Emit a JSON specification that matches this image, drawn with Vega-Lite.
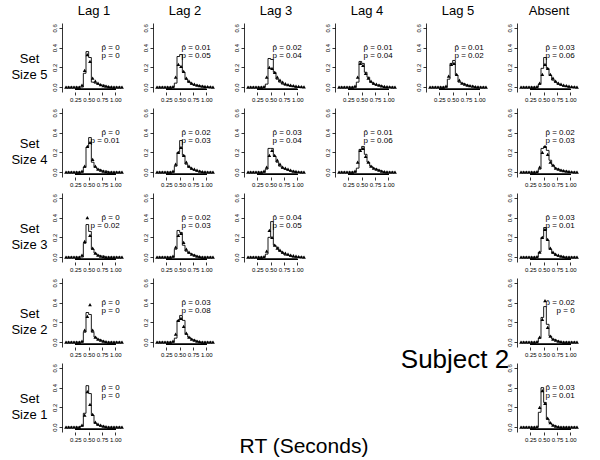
{
"$schema":"https://vega.github.io/schema/vega-lite/v6.json",
"padding":{"left":10,"top":5,"right":5,"bottom":0},
"datasets":{
"a":[
{"k":"L1-5","t":["p\u0302 = 0","p = 0"]},
{"k":"L2-5","t":["p\u0302 = 0.01","p = 0.05"]},
{"k":"L3-5","t":["p\u0302 = 0.02","p = 0.04"]},
{"k":"L4-5","t":["p\u0302 = 0.01","p = 0.04"]},
{"k":"L5-5","t":["p\u0302 = 0.01","p = 0.02"]},
{"k":"A-5","t":["p\u0302 = 0.03","p = 0.06"]},
{"k":"L1-4","t":["p\u0302 = 0","p = 0.01"]},
{"k":"L2-4","t":["p\u0302 = 0.02","p = 0.03"]},
{"k":"L3-4","t":["p\u0302 = 0.03","p = 0.04"]},
{"k":"L4-4","t":["p\u0302 = 0.01","p = 0.06"]},
{"k":"A-4","t":["p\u0302 = 0.02","p = 0.03"]},
{"k":"L1-3","t":["p\u0302 = 0","p = 0.02"]},
{"k":"L2-3","t":["p\u0302 = 0.02","p = 0.03"]},
{"k":"L3-3","t":["p\u0302 = 0.04","p = 0.05"]},
{"k":"A-3","t":["p\u0302 = 0.03","p = 0.01"]},
{"k":"L1-2","t":["p\u0302 = 0","p = 0"]},
{"k":"L2-2","t":["p\u0302 = 0.03","p = 0.08"]},
{"k":"A-2","t":["p\u0302 = 0.02","p = 0"]},
{"k":"L1-1","t":["p\u0302 = 0","p = 0"]},
{"k":"A-1","t":["p\u0302 = 0.03","p = 0.01"]}
],
"h":[
{"k":"L1-5","x":0.075,"o":0,"p":0},{"k":"L1-5","x":0.125,"o":0,"p":0},{"k":"L1-5","x":0.175,"o":0,"p":0},{"k":"L1-5","x":0.225,"o":0,"p":0},{"k":"L1-5","x":0.275,"o":0,"p":0},{"k":"L1-5","x":0.325,"o":0,"p":0},{"k":"L1-5","x":0.375,"o":0,"p":0.02},{"k":"L1-5","x":0.425,"o":0.14,"p":0.17},{"k":"L1-5","x":0.475,"o":0.36,"p":0.33},{"k":"L1-5","x":0.525,"o":0.30,"p":0.26},{"k":"L1-5","x":0.575,"o":0.05,"p":0.09},{"k":"L1-5","x":0.625,"o":0.04,"p":0.06},{"k":"L1-5","x":0.675,"o":0.03,"p":0.04},{"k":"L1-5","x":0.725,"o":0.02,"p":0.025},{"k":"L1-5","x":0.775,"o":0.02,"p":0.015},{"k":"L1-5","x":0.825,"o":0.01,"p":0.01},{"k":"L1-5","x":0.875,"o":0,"p":0.005},{"k":"L1-5","x":0.925,"o":0,"p":0.003},{"k":"L1-5","x":0.975,"o":0,"p":0},{"k":"L1-5","x":1.025,"o":0,"p":0},{"k":"L1-5","x":1.075,"o":0,"p":0},{"k":"L1-5","x":1.125,"o":0,"p":0},
{"k":"L2-5","x":0.075,"o":0,"p":0},{"k":"L2-5","x":0.125,"o":0,"p":0},{"k":"L2-5","x":0.175,"o":0,"p":0},{"k":"L2-5","x":0.225,"o":0,"p":0},{"k":"L2-5","x":0.275,"o":0,"p":0},{"k":"L2-5","x":0.325,"o":0,"p":0},{"k":"L2-5","x":0.375,"o":0,"p":0.005},{"k":"L2-5","x":0.425,"o":0.04,"p":0.10},{"k":"L2-5","x":0.475,"o":0.31,"p":0.23},{"k":"L2-5","x":0.525,"o":0.33,"p":0.21},{"k":"L2-5","x":0.575,"o":0.15,"p":0.16},{"k":"L2-5","x":0.625,"o":0.08,"p":0.09},{"k":"L2-5","x":0.675,"o":0.05,"p":0.06},{"k":"L2-5","x":0.725,"o":0.03,"p":0.04},{"k":"L2-5","x":0.775,"o":0.02,"p":0.03},{"k":"L2-5","x":0.825,"o":0.02,"p":0.02},{"k":"L2-5","x":0.875,"o":0.01,"p":0.015},{"k":"L2-5","x":0.925,"o":0.01,"p":0.01},{"k":"L2-5","x":0.975,"o":0,"p":0.008},{"k":"L2-5","x":1.025,"o":0,"p":0.005},{"k":"L2-5","x":1.075,"o":0,"p":0.003},{"k":"L2-5","x":1.125,"o":0,"p":0},
{"k":"L3-5","x":0.075,"o":0,"p":0},{"k":"L3-5","x":0.125,"o":0,"p":0},{"k":"L3-5","x":0.175,"o":0,"p":0},{"k":"L3-5","x":0.225,"o":0,"p":0},{"k":"L3-5","x":0.275,"o":0,"p":0},{"k":"L3-5","x":0.325,"o":0,"p":0},{"k":"L3-5","x":0.375,"o":0,"p":0.005},{"k":"L3-5","x":0.425,"o":0.03,"p":0.10},{"k":"L3-5","x":0.475,"o":0.29,"p":0.20},{"k":"L3-5","x":0.525,"o":0.28,"p":0.19},{"k":"L3-5","x":0.575,"o":0.15,"p":0.15},{"k":"L3-5","x":0.625,"o":0.08,"p":0.10},{"k":"L3-5","x":0.675,"o":0.05,"p":0.07},{"k":"L3-5","x":0.725,"o":0.03,"p":0.05},{"k":"L3-5","x":0.775,"o":0.02,"p":0.035},{"k":"L3-5","x":0.825,"o":0.02,"p":0.025},{"k":"L3-5","x":0.875,"o":0.01,"p":0.02},{"k":"L3-5","x":0.925,"o":0.01,"p":0.015},{"k":"L3-5","x":0.975,"o":0,"p":0.01},{"k":"L3-5","x":1.025,"o":0,"p":0.006},{"k":"L3-5","x":1.075,"o":0,"p":0.004},{"k":"L3-5","x":1.125,"o":0,"p":0.002},
{"k":"L4-5","x":0.075,"o":0,"p":0},{"k":"L4-5","x":0.125,"o":0,"p":0},{"k":"L4-5","x":0.175,"o":0,"p":0},{"k":"L4-5","x":0.225,"o":0,"p":0},{"k":"L4-5","x":0.275,"o":0,"p":0},{"k":"L4-5","x":0.325,"o":0,"p":0},{"k":"L4-5","x":0.375,"o":0,"p":0.01},{"k":"L4-5","x":0.425,"o":0.05,"p":0.10},{"k":"L4-5","x":0.475,"o":0.26,"p":0.24},{"k":"L4-5","x":0.525,"o":0.24,"p":0.22},{"k":"L4-5","x":0.575,"o":0.15,"p":0.14},{"k":"L4-5","x":0.625,"o":0.10,"p":0.09},{"k":"L4-5","x":0.675,"o":0.05,"p":0.06},{"k":"L4-5","x":0.725,"o":0.03,"p":0.04},{"k":"L4-5","x":0.775,"o":0.02,"p":0.03},{"k":"L4-5","x":0.825,"o":0.02,"p":0.02},{"k":"L4-5","x":0.875,"o":0.01,"p":0.012},{"k":"L4-5","x":0.925,"o":0,"p":0.008},{"k":"L4-5","x":0.975,"o":0,"p":0.005},{"k":"L4-5","x":1.025,"o":0,"p":0.003},{"k":"L4-5","x":1.075,"o":0,"p":0},{"k":"L4-5","x":1.125,"o":0,"p":0},
{"k":"L5-5","x":0.075,"o":0,"p":0},{"k":"L5-5","x":0.125,"o":0,"p":0},{"k":"L5-5","x":0.175,"o":0,"p":0},{"k":"L5-5","x":0.225,"o":0,"p":0},{"k":"L5-5","x":0.275,"o":0,"p":0},{"k":"L5-5","x":0.325,"o":0,"p":0},{"k":"L5-5","x":0.375,"o":0,"p":0.01},{"k":"L5-5","x":0.425,"o":0.08,"p":0.11},{"k":"L5-5","x":0.475,"o":0.24,"p":0.23},{"k":"L5-5","x":0.525,"o":0.27,"p":0.24},{"k":"L5-5","x":0.575,"o":0.12,"p":0.13},{"k":"L5-5","x":0.625,"o":0.05,"p":0.07},{"k":"L5-5","x":0.675,"o":0.04,"p":0.04},{"k":"L5-5","x":0.725,"o":0.03,"p":0.03},{"k":"L5-5","x":0.775,"o":0.02,"p":0.02},{"k":"L5-5","x":0.825,"o":0.01,"p":0.015},{"k":"L5-5","x":0.875,"o":0.01,"p":0.01},{"k":"L5-5","x":0.925,"o":0,"p":0.005},{"k":"L5-5","x":0.975,"o":0,"p":0.003},{"k":"L5-5","x":1.025,"o":0,"p":0},{"k":"L5-5","x":1.075,"o":0,"p":0},{"k":"L5-5","x":1.125,"o":0,"p":0},
{"k":"A-5","x":0.075,"o":0,"p":0},{"k":"A-5","x":0.125,"o":0,"p":0},{"k":"A-5","x":0.175,"o":0,"p":0},{"k":"A-5","x":0.225,"o":0,"p":0},{"k":"A-5","x":0.275,"o":0,"p":0},{"k":"A-5","x":0.325,"o":0,"p":0},{"k":"A-5","x":0.375,"o":0,"p":0.005},{"k":"A-5","x":0.425,"o":0.03,"p":0.04},{"k":"A-5","x":0.475,"o":0.19,"p":0.13},{"k":"A-5","x":0.525,"o":0.30,"p":0.23},{"k":"A-5","x":0.575,"o":0.19,"p":0.19},{"k":"A-5","x":0.625,"o":0.12,"p":0.13},{"k":"A-5","x":0.675,"o":0.07,"p":0.09},{"k":"A-5","x":0.725,"o":0.05,"p":0.06},{"k":"A-5","x":0.775,"o":0.03,"p":0.04},{"k":"A-5","x":0.825,"o":0.02,"p":0.03},{"k":"A-5","x":0.875,"o":0.01,"p":0.02},{"k":"A-5","x":0.925,"o":0.01,"p":0.015},{"k":"A-5","x":0.975,"o":0,"p":0.01},{"k":"A-5","x":1.025,"o":0,"p":0.005},{"k":"A-5","x":1.075,"o":0,"p":0.003},{"k":"A-5","x":1.125,"o":0,"p":0},
{"k":"L1-4","x":0.075,"o":0,"p":0},{"k":"L1-4","x":0.125,"o":0,"p":0},{"k":"L1-4","x":0.175,"o":0,"p":0},{"k":"L1-4","x":0.225,"o":0,"p":0},{"k":"L1-4","x":0.275,"o":0,"p":0},{"k":"L1-4","x":0.325,"o":0,"p":0},{"k":"L1-4","x":0.375,"o":0,"p":0.01},{"k":"L1-4","x":0.425,"o":0.05,"p":0.06},{"k":"L1-4","x":0.475,"o":0.25,"p":0.26},{"k":"L1-4","x":0.525,"o":0.35,"p":0.30},{"k":"L1-4","x":0.575,"o":0.10,"p":0.13},{"k":"L1-4","x":0.625,"o":0.05,"p":0.06},{"k":"L1-4","x":0.675,"o":0.03,"p":0.03},{"k":"L1-4","x":0.725,"o":0.02,"p":0.02},{"k":"L1-4","x":0.775,"o":0.01,"p":0.01},{"k":"L1-4","x":0.825,"o":0.01,"p":0.005},{"k":"L1-4","x":0.875,"o":0,"p":0},{"k":"L1-4","x":0.925,"o":0,"p":0},{"k":"L1-4","x":0.975,"o":0,"p":0},{"k":"L1-4","x":1.025,"o":0,"p":0},{"k":"L1-4","x":1.075,"o":0,"p":0},{"k":"L1-4","x":1.125,"o":0,"p":0},
{"k":"L2-4","x":0.075,"o":0,"p":0},{"k":"L2-4","x":0.125,"o":0,"p":0},{"k":"L2-4","x":0.175,"o":0,"p":0},{"k":"L2-4","x":0.225,"o":0,"p":0},{"k":"L2-4","x":0.275,"o":0,"p":0},{"k":"L2-4","x":0.325,"o":0,"p":0},{"k":"L2-4","x":0.375,"o":0,"p":0.01},{"k":"L2-4","x":0.425,"o":0.06,"p":0.08},{"k":"L2-4","x":0.475,"o":0.20,"p":0.20},{"k":"L2-4","x":0.525,"o":0.32,"p":0.25},{"k":"L2-4","x":0.575,"o":0.17,"p":0.17},{"k":"L2-4","x":0.625,"o":0.08,"p":0.10},{"k":"L2-4","x":0.675,"o":0.05,"p":0.06},{"k":"L2-4","x":0.725,"o":0.03,"p":0.04},{"k":"L2-4","x":0.775,"o":0.02,"p":0.03},{"k":"L2-4","x":0.825,"o":0.01,"p":0.02},{"k":"L2-4","x":0.875,"o":0.01,"p":0.01},{"k":"L2-4","x":0.925,"o":0,"p":0.005},{"k":"L2-4","x":0.975,"o":0,"p":0.003},{"k":"L2-4","x":1.025,"o":0,"p":0},{"k":"L2-4","x":1.075,"o":0,"p":0},{"k":"L2-4","x":1.125,"o":0,"p":0},
{"k":"L3-4","x":0.075,"o":0,"p":0},{"k":"L3-4","x":0.125,"o":0,"p":0},{"k":"L3-4","x":0.175,"o":0,"p":0},{"k":"L3-4","x":0.225,"o":0,"p":0},{"k":"L3-4","x":0.275,"o":0,"p":0},{"k":"L3-4","x":0.325,"o":0,"p":0},{"k":"L3-4","x":0.375,"o":0,"p":0.01},{"k":"L3-4","x":0.425,"o":0.03,"p":0.05},{"k":"L3-4","x":0.475,"o":0.24,"p":0.17},{"k":"L3-4","x":0.525,"o":0.24,"p":0.22},{"k":"L3-4","x":0.575,"o":0.16,"p":0.17},{"k":"L3-4","x":0.625,"o":0.10,"p":0.12},{"k":"L3-4","x":0.675,"o":0.06,"p":0.08},{"k":"L3-4","x":0.725,"o":0.04,"p":0.05},{"k":"L3-4","x":0.775,"o":0.03,"p":0.04},{"k":"L3-4","x":0.825,"o":0.02,"p":0.03},{"k":"L3-4","x":0.875,"o":0.01,"p":0.02},{"k":"L3-4","x":0.925,"o":0.01,"p":0.01},{"k":"L3-4","x":0.975,"o":0,"p":0.006},{"k":"L3-4","x":1.025,"o":0,"p":0.003},{"k":"L3-4","x":1.075,"o":0,"p":0},{"k":"L3-4","x":1.125,"o":0,"p":0},
{"k":"L4-4","x":0.075,"o":0,"p":0},{"k":"L4-4","x":0.125,"o":0,"p":0},{"k":"L4-4","x":0.175,"o":0,"p":0},{"k":"L4-4","x":0.225,"o":0,"p":0},{"k":"L4-4","x":0.275,"o":0,"p":0},{"k":"L4-4","x":0.325,"o":0,"p":0},{"k":"L4-4","x":0.375,"o":0,"p":0.01},{"k":"L4-4","x":0.425,"o":0.04,"p":0.10},{"k":"L4-4","x":0.475,"o":0.23,"p":0.22},{"k":"L4-4","x":0.525,"o":0.26,"p":0.24},{"k":"L4-4","x":0.575,"o":0.18,"p":0.16},{"k":"L4-4","x":0.625,"o":0.10,"p":0.10},{"k":"L4-4","x":0.675,"o":0.06,"p":0.06},{"k":"L4-4","x":0.725,"o":0.04,"p":0.04},{"k":"L4-4","x":0.775,"o":0.03,"p":0.03},{"k":"L4-4","x":0.825,"o":0.02,"p":0.02},{"k":"L4-4","x":0.875,"o":0.01,"p":0.01},{"k":"L4-4","x":0.925,"o":0,"p":0.005},{"k":"L4-4","x":0.975,"o":0,"p":0.003},{"k":"L4-4","x":1.025,"o":0,"p":0},{"k":"L4-4","x":1.075,"o":0,"p":0},{"k":"L4-4","x":1.125,"o":0,"p":0},
{"k":"A-4","x":0.075,"o":0,"p":0},{"k":"A-4","x":0.125,"o":0,"p":0},{"k":"A-4","x":0.175,"o":0,"p":0},{"k":"A-4","x":0.225,"o":0,"p":0},{"k":"A-4","x":0.275,"o":0,"p":0},{"k":"A-4","x":0.325,"o":0,"p":0},{"k":"A-4","x":0.375,"o":0,"p":0.005},{"k":"A-4","x":0.425,"o":0.03,"p":0.05},{"k":"A-4","x":0.475,"o":0.24,"p":0.20},{"k":"A-4","x":0.525,"o":0.26,"p":0.26},{"k":"A-4","x":0.575,"o":0.22,"p":0.18},{"k":"A-4","x":0.625,"o":0.12,"p":0.10},{"k":"A-4","x":0.675,"o":0.07,"p":0.07},{"k":"A-4","x":0.725,"o":0.04,"p":0.04},{"k":"A-4","x":0.775,"o":0.03,"p":0.03},{"k":"A-4","x":0.825,"o":0.02,"p":0.02},{"k":"A-4","x":0.875,"o":0.01,"p":0.015},{"k":"A-4","x":0.925,"o":0.01,"p":0.01},{"k":"A-4","x":0.975,"o":0,"p":0.006},{"k":"A-4","x":1.025,"o":0,"p":0.003},{"k":"A-4","x":1.075,"o":0,"p":0},{"k":"A-4","x":1.125,"o":0,"p":0},
{"k":"L1-3","x":0.075,"o":0,"p":0},{"k":"L1-3","x":0.125,"o":0,"p":0},{"k":"L1-3","x":0.175,"o":0,"p":0},{"k":"L1-3","x":0.225,"o":0,"p":0},{"k":"L1-3","x":0.275,"o":0,"p":0},{"k":"L1-3","x":0.325,"o":0,"p":0},{"k":"L1-3","x":0.375,"o":0,"p":0.02},{"k":"L1-3","x":0.425,"o":0.14,"p":0.16},{"k":"L1-3","x":0.475,"o":0.33,"p":0.40},{"k":"L1-3","x":0.525,"o":0.26,"p":0.22},{"k":"L1-3","x":0.575,"o":0.08,"p":0.09},{"k":"L1-3","x":0.625,"o":0.04,"p":0.04},{"k":"L1-3","x":0.675,"o":0.02,"p":0.02},{"k":"L1-3","x":0.725,"o":0.01,"p":0.01},{"k":"L1-3","x":0.775,"o":0.01,"p":0.005},{"k":"L1-3","x":0.825,"o":0,"p":0},{"k":"L1-3","x":0.875,"o":0,"p":0},{"k":"L1-3","x":0.925,"o":0,"p":0},{"k":"L1-3","x":0.975,"o":0,"p":0},{"k":"L1-3","x":1.025,"o":0,"p":0},{"k":"L1-3","x":1.075,"o":0,"p":0},{"k":"L1-3","x":1.125,"o":0,"p":0},
{"k":"L2-3","x":0.075,"o":0,"p":0},{"k":"L2-3","x":0.125,"o":0,"p":0},{"k":"L2-3","x":0.175,"o":0,"p":0},{"k":"L2-3","x":0.225,"o":0,"p":0},{"k":"L2-3","x":0.275,"o":0,"p":0},{"k":"L2-3","x":0.325,"o":0,"p":0},{"k":"L2-3","x":0.375,"o":0,"p":0.01},{"k":"L2-3","x":0.425,"o":0.08,"p":0.10},{"k":"L2-3","x":0.475,"o":0.27,"p":0.22},{"k":"L2-3","x":0.525,"o":0.25,"p":0.24},{"k":"L2-3","x":0.575,"o":0.12,"p":0.15},{"k":"L2-3","x":0.625,"o":0.06,"p":0.08},{"k":"L2-3","x":0.675,"o":0.04,"p":0.05},{"k":"L2-3","x":0.725,"o":0.03,"p":0.03},{"k":"L2-3","x":0.775,"o":0.02,"p":0.02},{"k":"L2-3","x":0.825,"o":0.01,"p":0.01},{"k":"L2-3","x":0.875,"o":0,"p":0.005},{"k":"L2-3","x":0.925,"o":0,"p":0},{"k":"L2-3","x":0.975,"o":0,"p":0},{"k":"L2-3","x":1.025,"o":0,"p":0},{"k":"L2-3","x":1.075,"o":0,"p":0},{"k":"L2-3","x":1.125,"o":0,"p":0},
{"k":"L3-3","x":0.075,"o":0,"p":0},{"k":"L3-3","x":0.125,"o":0,"p":0},{"k":"L3-3","x":0.175,"o":0,"p":0},{"k":"L3-3","x":0.225,"o":0,"p":0},{"k":"L3-3","x":0.275,"o":0,"p":0},{"k":"L3-3","x":0.325,"o":0,"p":0},{"k":"L3-3","x":0.375,"o":0,"p":0.005},{"k":"L3-3","x":0.425,"o":0.03,"p":0.06},{"k":"L3-3","x":0.475,"o":0.20,"p":0.27},{"k":"L3-3","x":0.525,"o":0.36,"p":0.20},{"k":"L3-3","x":0.575,"o":0.12,"p":0.12},{"k":"L3-3","x":0.625,"o":0.10,"p":0.09},{"k":"L3-3","x":0.675,"o":0.06,"p":0.07},{"k":"L3-3","x":0.725,"o":0.04,"p":0.05},{"k":"L3-3","x":0.775,"o":0.02,"p":0.04},{"k":"L3-3","x":0.825,"o":0.02,"p":0.03},{"k":"L3-3","x":0.875,"o":0.01,"p":0.02},{"k":"L3-3","x":0.925,"o":0,"p":0.015},{"k":"L3-3","x":0.975,"o":0,"p":0.01},{"k":"L3-3","x":1.025,"o":0,"p":0.005},{"k":"L3-3","x":1.075,"o":0,"p":0.003},{"k":"L3-3","x":1.125,"o":0,"p":0},
{"k":"A-3","x":0.075,"o":0,"p":0},{"k":"A-3","x":0.125,"o":0,"p":0},{"k":"A-3","x":0.175,"o":0,"p":0},{"k":"A-3","x":0.225,"o":0,"p":0},{"k":"A-3","x":0.275,"o":0,"p":0},{"k":"A-3","x":0.325,"o":0,"p":0},{"k":"A-3","x":0.375,"o":0,"p":0.005},{"k":"A-3","x":0.425,"o":0.05,"p":0.05},{"k":"A-3","x":0.475,"o":0.20,"p":0.20},{"k":"A-3","x":0.525,"o":0.30,"p":0.28},{"k":"A-3","x":0.575,"o":0.17,"p":0.18},{"k":"A-3","x":0.625,"o":0.08,"p":0.09},{"k":"A-3","x":0.675,"o":0.04,"p":0.05},{"k":"A-3","x":0.725,"o":0.02,"p":0.03},{"k":"A-3","x":0.775,"o":0.01,"p":0.02},{"k":"A-3","x":0.825,"o":0.01,"p":0.01},{"k":"A-3","x":0.875,"o":0,"p":0.005},{"k":"A-3","x":0.925,"o":0,"p":0},{"k":"A-3","x":0.975,"o":0,"p":0},{"k":"A-3","x":1.025,"o":0,"p":0},{"k":"A-3","x":1.075,"o":0,"p":0},{"k":"A-3","x":1.125,"o":0,"p":0},
{"k":"L1-2","x":0.075,"o":0,"p":0},{"k":"L1-2","x":0.125,"o":0,"p":0},{"k":"L1-2","x":0.175,"o":0,"p":0},{"k":"L1-2","x":0.225,"o":0,"p":0},{"k":"L1-2","x":0.275,"o":0,"p":0},{"k":"L1-2","x":0.325,"o":0,"p":0},{"k":"L1-2","x":0.375,"o":0,"p":0.01},{"k":"L1-2","x":0.425,"o":0.10,"p":0.12},{"k":"L1-2","x":0.475,"o":0.30,"p":0.26},{"k":"L1-2","x":0.525,"o":0.28,"p":0.38},{"k":"L1-2","x":0.575,"o":0.10,"p":0.12},{"k":"L1-2","x":0.625,"o":0.05,"p":0.05},{"k":"L1-2","x":0.675,"o":0.03,"p":0.03},{"k":"L1-2","x":0.725,"o":0.02,"p":0.02},{"k":"L1-2","x":0.775,"o":0.01,"p":0.01},{"k":"L1-2","x":0.825,"o":0,"p":0.005},{"k":"L1-2","x":0.875,"o":0,"p":0},{"k":"L1-2","x":0.925,"o":0,"p":0},{"k":"L1-2","x":0.975,"o":0,"p":0},{"k":"L1-2","x":1.025,"o":0,"p":0},{"k":"L1-2","x":1.075,"o":0,"p":0},{"k":"L1-2","x":1.125,"o":0,"p":0},
{"k":"L2-2","x":0.075,"o":0,"p":0},{"k":"L2-2","x":0.125,"o":0,"p":0},{"k":"L2-2","x":0.175,"o":0,"p":0},{"k":"L2-2","x":0.225,"o":0,"p":0},{"k":"L2-2","x":0.275,"o":0,"p":0},{"k":"L2-2","x":0.325,"o":0,"p":0},{"k":"L2-2","x":0.375,"o":0,"p":0.01},{"k":"L2-2","x":0.425,"o":0.04,"p":0.08},{"k":"L2-2","x":0.475,"o":0.22,"p":0.22},{"k":"L2-2","x":0.525,"o":0.27,"p":0.24},{"k":"L2-2","x":0.575,"o":0.22,"p":0.16},{"k":"L2-2","x":0.625,"o":0.08,"p":0.09},{"k":"L2-2","x":0.675,"o":0.05,"p":0.05},{"k":"L2-2","x":0.725,"o":0.03,"p":0.03},{"k":"L2-2","x":0.775,"o":0.02,"p":0.02},{"k":"L2-2","x":0.825,"o":0.01,"p":0.01},{"k":"L2-2","x":0.875,"o":0,"p":0.005},{"k":"L2-2","x":0.925,"o":0,"p":0},{"k":"L2-2","x":0.975,"o":0,"p":0},{"k":"L2-2","x":1.025,"o":0,"p":0},{"k":"L2-2","x":1.075,"o":0,"p":0},{"k":"L2-2","x":1.125,"o":0,"p":0},
{"k":"A-2","x":0.075,"o":0,"p":0},{"k":"A-2","x":0.125,"o":0,"p":0},{"k":"A-2","x":0.175,"o":0,"p":0},{"k":"A-2","x":0.225,"o":0,"p":0},{"k":"A-2","x":0.275,"o":0,"p":0},{"k":"A-2","x":0.325,"o":0,"p":0},{"k":"A-2","x":0.375,"o":0,"p":0.005},{"k":"A-2","x":0.425,"o":0.04,"p":0.05},{"k":"A-2","x":0.475,"o":0.25,"p":0.23},{"k":"A-2","x":0.525,"o":0.36,"p":0.42},{"k":"A-2","x":0.575,"o":0.18,"p":0.15},{"k":"A-2","x":0.625,"o":0.06,"p":0.06},{"k":"A-2","x":0.675,"o":0.03,"p":0.03},{"k":"A-2","x":0.725,"o":0.02,"p":0.02},{"k":"A-2","x":0.775,"o":0.01,"p":0.01},{"k":"A-2","x":0.825,"o":0,"p":0.005},{"k":"A-2","x":0.875,"o":0,"p":0},{"k":"A-2","x":0.925,"o":0,"p":0},{"k":"A-2","x":0.975,"o":0,"p":0},{"k":"A-2","x":1.025,"o":0,"p":0},{"k":"A-2","x":1.075,"o":0,"p":0},{"k":"A-2","x":1.125,"o":0,"p":0},
{"k":"L1-1","x":0.075,"o":0,"p":0},{"k":"L1-1","x":0.125,"o":0,"p":0},{"k":"L1-1","x":0.175,"o":0,"p":0},{"k":"L1-1","x":0.225,"o":0,"p":0},{"k":"L1-1","x":0.275,"o":0,"p":0},{"k":"L1-1","x":0.325,"o":0,"p":0},{"k":"L1-1","x":0.375,"o":0.01,"p":0.02},{"k":"L1-1","x":0.425,"o":0.14,"p":0.12},{"k":"L1-1","x":0.475,"o":0.42,"p":0.36},{"k":"L1-1","x":0.525,"o":0.34,"p":0.23},{"k":"L1-1","x":0.575,"o":0.12,"p":0.13},{"k":"L1-1","x":0.625,"o":0.04,"p":0.05},{"k":"L1-1","x":0.675,"o":0.02,"p":0.03},{"k":"L1-1","x":0.725,"o":0.01,"p":0.02},{"k":"L1-1","x":0.775,"o":0.01,"p":0.01},{"k":"L1-1","x":0.825,"o":0,"p":0.005},{"k":"L1-1","x":0.875,"o":0,"p":0},{"k":"L1-1","x":0.925,"o":0,"p":0},{"k":"L1-1","x":0.975,"o":0,"p":0},{"k":"L1-1","x":1.025,"o":0,"p":0},{"k":"L1-1","x":1.075,"o":0,"p":0},{"k":"L1-1","x":1.125,"o":0,"p":0},
{"k":"A-1","x":0.075,"o":0,"p":0},{"k":"A-1","x":0.125,"o":0,"p":0},{"k":"A-1","x":0.175,"o":0,"p":0},{"k":"A-1","x":0.225,"o":0,"p":0},{"k":"A-1","x":0.275,"o":0,"p":0},{"k":"A-1","x":0.325,"o":0,"p":0},{"k":"A-1","x":0.375,"o":0,"p":0.005},{"k":"A-1","x":0.425,"o":0.15,"p":0.20},{"k":"A-1","x":0.475,"o":0.40,"p":0.37},{"k":"A-1","x":0.525,"o":0.25,"p":0.24},{"k":"A-1","x":0.575,"o":0.08,"p":0.09},{"k":"A-1","x":0.625,"o":0.04,"p":0.045},{"k":"A-1","x":0.675,"o":0.02,"p":0.02},{"k":"A-1","x":0.725,"o":0.01,"p":0.01},{"k":"A-1","x":0.775,"o":0,"p":0.005},{"k":"A-1","x":0.825,"o":0,"p":0},{"k":"A-1","x":0.875,"o":0,"p":0},{"k":"A-1","x":0.925,"o":0,"p":0},{"k":"A-1","x":0.975,"o":0,"p":0},{"k":"A-1","x":1.025,"o":0,"p":0},{"k":"A-1","x":1.075,"o":0,"p":0},{"k":"A-1","x":1.125,"o":0,"p":0}
]},
"data":{"name":"h"},
"columns":6,
"bounds":"flush",
"spacing":{"row":16,"column":27},
"concat":[
{"title":"Lag 1","width":64,"height":69,"resolve":{"axis":{"x":"independent","y":"independent"}},"transform":[{"filter":"datum.k=='L1-5'"}],"layer":[
{"mark":"line","encoding":{"x":{"field":"x","type":"quantitative","title":null,"scale":{"domain":[0.033,1.167]},"axis":{"values":[0.25,0.5,0.75,1]}},"y":{"field":"o","type":"quantitative","title":["Set","Size 5"],"scale":{"domain":[-0.024,0.624]},"axis":{"values":[0,0.2,0.4,0.6]}}}},
{"mark":"point","encoding":{"x":{"field":"x","type":"quantitative","axis":null},"y":{"field":"p","type":"quantitative","axis":null}}},
{"mark":"rule","encoding":{"x":{"datum":0.25,"axis":null},"x2":{"datum":1},"y":{"datum":-0.024,"axis":null}}},
{"data":{"name":"a"},"transform":[{"filter":"datum.k=='L1-5'"}],"mark":"text","encoding":{"x":{"datum":1.08,"axis":null},"y":{"datum":0.395,"axis":null},"text":{"field":"t"}}}]},
{"title":"Lag 2","width":64,"height":69,"resolve":{"axis":{"x":"independent","y":"independent"}},"transform":[{"filter":"datum.k=='L2-5'"}],"layer":[
{"mark":"line","encoding":{"x":{"field":"x","type":"quantitative","title":null,"scale":{"domain":[0.033,1.167]},"axis":{"values":[0.25,0.5,0.75,1]}},"y":{"field":"o","type":"quantitative","title":null,"scale":{"domain":[-0.024,0.624]},"axis":{"values":[0,0.2,0.4,0.6]}}}},
{"mark":"point","encoding":{"x":{"field":"x","type":"quantitative","axis":null},"y":{"field":"p","type":"quantitative","axis":null}}},
{"mark":"rule","encoding":{"x":{"datum":0.25,"axis":null},"x2":{"datum":1},"y":{"datum":-0.024,"axis":null}}},
{"data":{"name":"a"},"transform":[{"filter":"datum.k=='L2-5'"}],"mark":"text","encoding":{"x":{"datum":1.08,"axis":null},"y":{"datum":0.395,"axis":null},"text":{"field":"t"}}}]},
{"title":"Lag 3","width":64,"height":69,"resolve":{"axis":{"x":"independent","y":"independent"}},"transform":[{"filter":"datum.k=='L3-5'"}],"layer":[
{"mark":"line","encoding":{"x":{"field":"x","type":"quantitative","title":null,"scale":{"domain":[0.033,1.167]},"axis":{"values":[0.25,0.5,0.75,1]}},"y":{"field":"o","type":"quantitative","title":null,"scale":{"domain":[-0.024,0.624]},"axis":{"values":[0,0.2,0.4,0.6]}}}},
{"mark":"point","encoding":{"x":{"field":"x","type":"quantitative","axis":null},"y":{"field":"p","type":"quantitative","axis":null}}},
{"mark":"rule","encoding":{"x":{"datum":0.25,"axis":null},"x2":{"datum":1},"y":{"datum":-0.024,"axis":null}}},
{"data":{"name":"a"},"transform":[{"filter":"datum.k=='L3-5'"}],"mark":"text","encoding":{"x":{"datum":1.08,"axis":null},"y":{"datum":0.395,"axis":null},"text":{"field":"t"}}}]},
{"title":"Lag 4","width":64,"height":69,"resolve":{"axis":{"x":"independent","y":"independent"}},"transform":[{"filter":"datum.k=='L4-5'"}],"layer":[
{"mark":"line","encoding":{"x":{"field":"x","type":"quantitative","title":null,"scale":{"domain":[0.033,1.167]},"axis":{"values":[0.25,0.5,0.75,1]}},"y":{"field":"o","type":"quantitative","title":null,"scale":{"domain":[-0.024,0.624]},"axis":{"values":[0,0.2,0.4,0.6]}}}},
{"mark":"point","encoding":{"x":{"field":"x","type":"quantitative","axis":null},"y":{"field":"p","type":"quantitative","axis":null}}},
{"mark":"rule","encoding":{"x":{"datum":0.25,"axis":null},"x2":{"datum":1},"y":{"datum":-0.024,"axis":null}}},
{"data":{"name":"a"},"transform":[{"filter":"datum.k=='L4-5'"}],"mark":"text","encoding":{"x":{"datum":1.08,"axis":null},"y":{"datum":0.395,"axis":null},"text":{"field":"t"}}}]},
{"title":"Lag 5","width":64,"height":69,"resolve":{"axis":{"x":"independent","y":"independent"}},"transform":[{"filter":"datum.k=='L5-5'"}],"layer":[
{"mark":"line","encoding":{"x":{"field":"x","type":"quantitative","title":null,"scale":{"domain":[0.033,1.167]},"axis":{"values":[0.25,0.5,0.75,1]}},"y":{"field":"o","type":"quantitative","title":null,"scale":{"domain":[-0.024,0.624]},"axis":{"values":[0,0.2,0.4,0.6]}}}},
{"mark":"point","encoding":{"x":{"field":"x","type":"quantitative","axis":null},"y":{"field":"p","type":"quantitative","axis":null}}},
{"mark":"rule","encoding":{"x":{"datum":0.25,"axis":null},"x2":{"datum":1},"y":{"datum":-0.024,"axis":null}}},
{"data":{"name":"a"},"transform":[{"filter":"datum.k=='L5-5'"}],"mark":"text","encoding":{"x":{"datum":1.08,"axis":null},"y":{"datum":0.395,"axis":null},"text":{"field":"t"}}}]},
{"title":"Absent","width":64,"height":69,"resolve":{"axis":{"x":"independent","y":"independent"}},"transform":[{"filter":"datum.k=='A-5'"}],"layer":[
{"mark":"line","encoding":{"x":{"field":"x","type":"quantitative","title":null,"scale":{"domain":[0.033,1.167]},"axis":{"values":[0.25,0.5,0.75,1]}},"y":{"field":"o","type":"quantitative","title":null,"scale":{"domain":[-0.024,0.624]},"axis":{"values":[0,0.2,0.4,0.6]}}}},
{"mark":"point","encoding":{"x":{"field":"x","type":"quantitative","axis":null},"y":{"field":"p","type":"quantitative","axis":null}}},
{"mark":"rule","encoding":{"x":{"datum":0.25,"axis":null},"x2":{"datum":1},"y":{"datum":-0.024,"axis":null}}},
{"data":{"name":"a"},"transform":[{"filter":"datum.k=='A-5'"}],"mark":"text","encoding":{"x":{"datum":1.08,"axis":null},"y":{"datum":0.395,"axis":null},"text":{"field":"t"}}}]},

{"width":64,"height":69,"resolve":{"axis":{"x":"independent","y":"independent"}},"transform":[{"filter":"datum.k=='L1-4'"}],"layer":[
{"mark":"line","encoding":{"x":{"field":"x","type":"quantitative","title":null,"scale":{"domain":[0.033,1.167]},"axis":{"values":[0.25,0.5,0.75,1]}},"y":{"field":"o","type":"quantitative","title":["Set","Size 4"],"scale":{"domain":[-0.024,0.624]},"axis":{"values":[0,0.2,0.4,0.6]}}}},
{"mark":"point","encoding":{"x":{"field":"x","type":"quantitative","axis":null},"y":{"field":"p","type":"quantitative","axis":null}}},
{"mark":"rule","encoding":{"x":{"datum":0.25,"axis":null},"x2":{"datum":1},"y":{"datum":-0.024,"axis":null}}},
{"data":{"name":"a"},"transform":[{"filter":"datum.k=='L1-4'"}],"mark":"text","encoding":{"x":{"datum":1.08,"axis":null},"y":{"datum":0.395,"axis":null},"text":{"field":"t"}}}]},
{"width":64,"height":69,"resolve":{"axis":{"x":"independent","y":"independent"}},"transform":[{"filter":"datum.k=='L2-4'"}],"layer":[
{"mark":"line","encoding":{"x":{"field":"x","type":"quantitative","title":null,"scale":{"domain":[0.033,1.167]},"axis":{"values":[0.25,0.5,0.75,1]}},"y":{"field":"o","type":"quantitative","title":null,"scale":{"domain":[-0.024,0.624]},"axis":{"values":[0,0.2,0.4,0.6]}}}},
{"mark":"point","encoding":{"x":{"field":"x","type":"quantitative","axis":null},"y":{"field":"p","type":"quantitative","axis":null}}},
{"mark":"rule","encoding":{"x":{"datum":0.25,"axis":null},"x2":{"datum":1},"y":{"datum":-0.024,"axis":null}}},
{"data":{"name":"a"},"transform":[{"filter":"datum.k=='L2-4'"}],"mark":"text","encoding":{"x":{"datum":1.08,"axis":null},"y":{"datum":0.395,"axis":null},"text":{"field":"t"}}}]},
{"width":64,"height":69,"resolve":{"axis":{"x":"independent","y":"independent"}},"transform":[{"filter":"datum.k=='L3-4'"}],"layer":[
{"mark":"line","encoding":{"x":{"field":"x","type":"quantitative","title":null,"scale":{"domain":[0.033,1.167]},"axis":{"values":[0.25,0.5,0.75,1]}},"y":{"field":"o","type":"quantitative","title":null,"scale":{"domain":[-0.024,0.624]},"axis":{"values":[0,0.2,0.4,0.6]}}}},
{"mark":"point","encoding":{"x":{"field":"x","type":"quantitative","axis":null},"y":{"field":"p","type":"quantitative","axis":null}}},
{"mark":"rule","encoding":{"x":{"datum":0.25,"axis":null},"x2":{"datum":1},"y":{"datum":-0.024,"axis":null}}},
{"data":{"name":"a"},"transform":[{"filter":"datum.k=='L3-4'"}],"mark":"text","encoding":{"x":{"datum":1.08,"axis":null},"y":{"datum":0.395,"axis":null},"text":{"field":"t"}}}]},
{"width":64,"height":69,"resolve":{"axis":{"x":"independent","y":"independent"}},"transform":[{"filter":"datum.k=='L4-4'"}],"layer":[
{"mark":"line","encoding":{"x":{"field":"x","type":"quantitative","title":null,"scale":{"domain":[0.033,1.167]},"axis":{"values":[0.25,0.5,0.75,1]}},"y":{"field":"o","type":"quantitative","title":null,"scale":{"domain":[-0.024,0.624]},"axis":{"values":[0,0.2,0.4,0.6]}}}},
{"mark":"point","encoding":{"x":{"field":"x","type":"quantitative","axis":null},"y":{"field":"p","type":"quantitative","axis":null}}},
{"mark":"rule","encoding":{"x":{"datum":0.25,"axis":null},"x2":{"datum":1},"y":{"datum":-0.024,"axis":null}}},
{"data":{"name":"a"},"transform":[{"filter":"datum.k=='L4-4'"}],"mark":"text","encoding":{"x":{"datum":1.08,"axis":null},"y":{"datum":0.395,"axis":null},"text":{"field":"t"}}}]},
{"width":64,"height":69,"data":{"values":[]},"mark":"point"},
{"width":64,"height":69,"resolve":{"axis":{"x":"independent","y":"independent"}},"transform":[{"filter":"datum.k=='A-4'"}],"layer":[
{"mark":"line","encoding":{"x":{"field":"x","type":"quantitative","title":null,"scale":{"domain":[0.033,1.167]},"axis":{"values":[0.25,0.5,0.75,1]}},"y":{"field":"o","type":"quantitative","title":null,"scale":{"domain":[-0.024,0.624]},"axis":{"values":[0,0.2,0.4,0.6]}}}},
{"mark":"point","encoding":{"x":{"field":"x","type":"quantitative","axis":null},"y":{"field":"p","type":"quantitative","axis":null}}},
{"mark":"rule","encoding":{"x":{"datum":0.25,"axis":null},"x2":{"datum":1},"y":{"datum":-0.024,"axis":null}}},
{"data":{"name":"a"},"transform":[{"filter":"datum.k=='A-4'"}],"mark":"text","encoding":{"x":{"datum":1.08,"axis":null},"y":{"datum":0.395,"axis":null},"text":{"field":"t"}}}]},

{"width":64,"height":69,"resolve":{"axis":{"x":"independent","y":"independent"}},"transform":[{"filter":"datum.k=='L1-3'"}],"layer":[
{"mark":"line","encoding":{"x":{"field":"x","type":"quantitative","title":null,"scale":{"domain":[0.033,1.167]},"axis":{"values":[0.25,0.5,0.75,1]}},"y":{"field":"o","type":"quantitative","title":["Set","Size 3"],"scale":{"domain":[-0.024,0.624]},"axis":{"values":[0,0.2,0.4,0.6]}}}},
{"mark":"point","encoding":{"x":{"field":"x","type":"quantitative","axis":null},"y":{"field":"p","type":"quantitative","axis":null}}},
{"mark":"rule","encoding":{"x":{"datum":0.25,"axis":null},"x2":{"datum":1},"y":{"datum":-0.024,"axis":null}}},
{"data":{"name":"a"},"transform":[{"filter":"datum.k=='L1-3'"}],"mark":"text","encoding":{"x":{"datum":1.08,"axis":null},"y":{"datum":0.395,"axis":null},"text":{"field":"t"}}}]},
{"width":64,"height":69,"resolve":{"axis":{"x":"independent","y":"independent"}},"transform":[{"filter":"datum.k=='L2-3'"}],"layer":[
{"mark":"line","encoding":{"x":{"field":"x","type":"quantitative","title":null,"scale":{"domain":[0.033,1.167]},"axis":{"values":[0.25,0.5,0.75,1]}},"y":{"field":"o","type":"quantitative","title":null,"scale":{"domain":[-0.024,0.624]},"axis":{"values":[0,0.2,0.4,0.6]}}}},
{"mark":"point","encoding":{"x":{"field":"x","type":"quantitative","axis":null},"y":{"field":"p","type":"quantitative","axis":null}}},
{"mark":"rule","encoding":{"x":{"datum":0.25,"axis":null},"x2":{"datum":1},"y":{"datum":-0.024,"axis":null}}},
{"data":{"name":"a"},"transform":[{"filter":"datum.k=='L2-3'"}],"mark":"text","encoding":{"x":{"datum":1.08,"axis":null},"y":{"datum":0.395,"axis":null},"text":{"field":"t"}}}]},
{"width":64,"height":69,"resolve":{"axis":{"x":"independent","y":"independent"}},"transform":[{"filter":"datum.k=='L3-3'"}],"layer":[
{"mark":"line","encoding":{"x":{"field":"x","type":"quantitative","title":null,"scale":{"domain":[0.033,1.167]},"axis":{"values":[0.25,0.5,0.75,1]}},"y":{"field":"o","type":"quantitative","title":null,"scale":{"domain":[-0.024,0.624]},"axis":{"values":[0,0.2,0.4,0.6]}}}},
{"mark":"point","encoding":{"x":{"field":"x","type":"quantitative","axis":null},"y":{"field":"p","type":"quantitative","axis":null}}},
{"mark":"rule","encoding":{"x":{"datum":0.25,"axis":null},"x2":{"datum":1},"y":{"datum":-0.024,"axis":null}}},
{"data":{"name":"a"},"transform":[{"filter":"datum.k=='L3-3'"}],"mark":"text","encoding":{"x":{"datum":1.08,"axis":null},"y":{"datum":0.395,"axis":null},"text":{"field":"t"}}}]},
{"width":64,"height":69,"data":{"values":[]},"mark":"point"},
{"width":64,"height":69,"data":{"values":[]},"mark":"point"},
{"width":64,"height":69,"resolve":{"axis":{"x":"independent","y":"independent"}},"transform":[{"filter":"datum.k=='A-3'"}],"layer":[
{"mark":"line","encoding":{"x":{"field":"x","type":"quantitative","title":null,"scale":{"domain":[0.033,1.167]},"axis":{"values":[0.25,0.5,0.75,1]}},"y":{"field":"o","type":"quantitative","title":null,"scale":{"domain":[-0.024,0.624]},"axis":{"values":[0,0.2,0.4,0.6]}}}},
{"mark":"point","encoding":{"x":{"field":"x","type":"quantitative","axis":null},"y":{"field":"p","type":"quantitative","axis":null}}},
{"mark":"rule","encoding":{"x":{"datum":0.25,"axis":null},"x2":{"datum":1},"y":{"datum":-0.024,"axis":null}}},
{"data":{"name":"a"},"transform":[{"filter":"datum.k=='A-3'"}],"mark":"text","encoding":{"x":{"datum":1.08,"axis":null},"y":{"datum":0.395,"axis":null},"text":{"field":"t"}}}]},

{"width":64,"height":69,"resolve":{"axis":{"x":"independent","y":"independent"}},"transform":[{"filter":"datum.k=='L1-2'"}],"layer":[
{"mark":"line","encoding":{"x":{"field":"x","type":"quantitative","title":null,"scale":{"domain":[0.033,1.167]},"axis":{"values":[0.25,0.5,0.75,1]}},"y":{"field":"o","type":"quantitative","title":["Set","Size 2"],"scale":{"domain":[-0.024,0.624]},"axis":{"values":[0,0.2,0.4,0.6]}}}},
{"mark":"point","encoding":{"x":{"field":"x","type":"quantitative","axis":null},"y":{"field":"p","type":"quantitative","axis":null}}},
{"mark":"rule","encoding":{"x":{"datum":0.25,"axis":null},"x2":{"datum":1},"y":{"datum":-0.024,"axis":null}}},
{"data":{"name":"a"},"transform":[{"filter":"datum.k=='L1-2'"}],"mark":"text","encoding":{"x":{"datum":1.08,"axis":null},"y":{"datum":0.395,"axis":null},"text":{"field":"t"}}}]},
{"width":64,"height":69,"resolve":{"axis":{"x":"independent","y":"independent"}},"transform":[{"filter":"datum.k=='L2-2'"}],"layer":[
{"mark":"line","encoding":{"x":{"field":"x","type":"quantitative","title":null,"scale":{"domain":[0.033,1.167]},"axis":{"values":[0.25,0.5,0.75,1]}},"y":{"field":"o","type":"quantitative","title":null,"scale":{"domain":[-0.024,0.624]},"axis":{"values":[0,0.2,0.4,0.6]}}}},
{"mark":"point","encoding":{"x":{"field":"x","type":"quantitative","axis":null},"y":{"field":"p","type":"quantitative","axis":null}}},
{"mark":"rule","encoding":{"x":{"datum":0.25,"axis":null},"x2":{"datum":1},"y":{"datum":-0.024,"axis":null}}},
{"data":{"name":"a"},"transform":[{"filter":"datum.k=='L2-2'"}],"mark":"text","encoding":{"x":{"datum":1.08,"axis":null},"y":{"datum":0.395,"axis":null},"text":{"field":"t"}}}]},
{"width":64,"height":69,"data":{"values":[]},"mark":"point"},
{"width":64,"height":69,"data":{"values":[]},"mark":"point"},
{"width":64,"height":69,"data":{"values":[]},"mark":"point","title":{"text":"Subject 2","orient":"bottom","fontSize":26,"offset":0,"dx":-3}},
{"width":64,"height":69,"resolve":{"axis":{"x":"independent","y":"independent"}},"transform":[{"filter":"datum.k=='A-2'"}],"layer":[
{"mark":"line","encoding":{"x":{"field":"x","type":"quantitative","title":null,"scale":{"domain":[0.033,1.167]},"axis":{"values":[0.25,0.5,0.75,1]}},"y":{"field":"o","type":"quantitative","title":null,"scale":{"domain":[-0.024,0.624]},"axis":{"values":[0,0.2,0.4,0.6]}}}},
{"mark":"point","encoding":{"x":{"field":"x","type":"quantitative","axis":null},"y":{"field":"p","type":"quantitative","axis":null}}},
{"mark":"rule","encoding":{"x":{"datum":0.25,"axis":null},"x2":{"datum":1},"y":{"datum":-0.024,"axis":null}}},
{"data":{"name":"a"},"transform":[{"filter":"datum.k=='A-2'"}],"mark":"text","encoding":{"x":{"datum":1.08,"axis":null},"y":{"datum":0.395,"axis":null},"text":{"field":"t"}}}]},

{"width":64,"height":69,"resolve":{"axis":{"x":"independent","y":"independent"}},"transform":[{"filter":"datum.k=='L1-1'"}],"layer":[
{"mark":"line","encoding":{"x":{"field":"x","type":"quantitative","title":null,"scale":{"domain":[0.033,1.167]},"axis":{"values":[0.25,0.5,0.75,1]}},"y":{"field":"o","type":"quantitative","title":["Set","Size 1"],"scale":{"domain":[-0.024,0.624]},"axis":{"values":[0,0.2,0.4,0.6]}}}},
{"mark":"point","encoding":{"x":{"field":"x","type":"quantitative","axis":null},"y":{"field":"p","type":"quantitative","axis":null}}},
{"mark":"rule","encoding":{"x":{"datum":0.25,"axis":null},"x2":{"datum":1},"y":{"datum":-0.024,"axis":null}}},
{"data":{"name":"a"},"transform":[{"filter":"datum.k=='L1-1'"}],"mark":"text","encoding":{"x":{"datum":1.08,"axis":null},"y":{"datum":0.395,"axis":null},"text":{"field":"t"}}}]},
{"width":64,"height":69,"data":{"values":[]},"mark":"point"},
{"width":64,"height":69,"data":{"values":[]},"mark":"point","title":{"text":"RT (Seconds)","orient":"bottom","fontSize":21,"offset":4,"dx":28}},
{"width":64,"height":69,"data":{"values":[]},"mark":"point"},
{"width":64,"height":69,"data":{"values":[]},"mark":"point"},
{"width":64,"height":69,"resolve":{"axis":{"x":"independent","y":"independent"}},"transform":[{"filter":"datum.k=='A-1'"}],"layer":[
{"mark":"line","encoding":{"x":{"field":"x","type":"quantitative","title":null,"scale":{"domain":[0.033,1.167]},"axis":{"values":[0.25,0.5,0.75,1]}},"y":{"field":"o","type":"quantitative","title":null,"scale":{"domain":[-0.024,0.624]},"axis":{"values":[0,0.2,0.4,0.6]}}}},
{"mark":"point","encoding":{"x":{"field":"x","type":"quantitative","axis":null},"y":{"field":"p","type":"quantitative","axis":null}}},
{"mark":"rule","encoding":{"x":{"datum":0.25,"axis":null},"x2":{"datum":1},"y":{"datum":-0.024,"axis":null}}},
{"data":{"name":"a"},"transform":[{"filter":"datum.k=='A-1'"}],"mark":"text","encoding":{"x":{"datum":1.08,"axis":null},"y":{"datum":0.395,"axis":null},"text":{"field":"t"}}}]}
],
"config":{
"view":{"stroke":null},
"font":"Liberation Sans",
"axis":{"grid":false,"labelFont":"Liberation Sans","labelFontSize":6,"labelColor":"#000","tickColor":"#000","domainColor":"#000","tickSize":3,"labelPadding":1.5,"tickWidth":0.8,"domainWidth":0.8,"labelOverlap":false},
"axisX":{"format":".2f","domain":false,"labelFlush":false},
"axisY":{"format":".1f","labelAngle":-90,"labelAlign":"center","labelBaseline":"bottom","titleAngle":0,"titleX":-33,"titleY":35,"titleAlign":"center","titleBaseline":"middle","titleFontSize":13,"titleFontWeight":"normal","titleLineHeight":16,"titleColor":"#000","titleFont":"Liberation Sans"},
"line":{"color":"#000","strokeWidth":0.9,"interpolate":"step"},
"point":{"shape":"triangle-up","filled":true,"color":"#000","size":14,"opacity":1},
"rule":{"color":"#000","strokeWidth":0.8},
"text":{"fontSize":8,"align":"right","baseline":"middle","lineHeight":8,"font":"Liberation Sans","color":"#000"},
"title":{"fontSize":13,"fontWeight":"normal","offset":5,"color":"#000","font":"Liberation Sans"}
}
}
